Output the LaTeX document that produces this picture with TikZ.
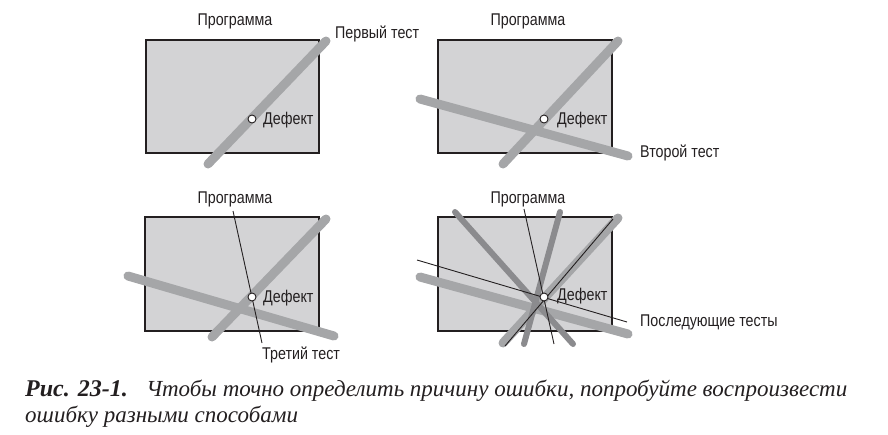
\documentclass[tikz,border=0pt]{standalone}
\usepackage{fontspec}
\setmainfont{Liberation Serif}
\newfontfamily\labfont[FakeStretch=0.84]{Liberation Sans}
\definecolor{boxfill}{HTML}{D3D3D5}
\definecolor{testlight}{HTML}{A5A6A8}
\definecolor{testdark}{HTML}{8B8B8E}
\definecolor{ink}{HTML}{231F20}
\tikzset{
  prog/.style={draw=ink, line width=1.8pt, fill=boxfill},
  thicktest/.style={draw=testlight, line width=9pt, line cap=round},
  medtest/.style={draw=testdark, line width=6pt, line cap=round},
  thintest/.style={draw=ink, line width=0.9pt},
  defect/.style={circle, draw=ink, fill=white, line width=0.9pt, minimum size=8pt, inner sep=0pt},
  lab/.style={font=\labfont\fontsize{17}{20}\selectfont, text=ink, inner sep=0pt},
  captext/.style={font=\fontsize{23}{27}\selectfont, text=ink, inner sep=0pt, anchor=base west}
}
\begin{document}
\begin{tikzpicture}[x=1pt,y=-1pt]
\useasboundingbox (0,0) rectangle (888,434);
% ---------- Panel 1 ----------
\draw[prog] (146,40) rectangle (319,153);
\coordinate (a1) at (208,164);
\coordinate (a2) at (326,41);
\draw[thicktest] (a1) -- (a2);
\node[defect] (d1) at (252,119) {};
\node[lab, anchor=west] (l1) at (263,120) {Дефект};
\node[lab] (p1) at (235,21) {Программа};
\node[lab, anchor=west] (t1) at (335,34) {Первый тест};
% ---------- Panel 2 ----------
\draw[prog] (438,40) rectangle (612,153);
\coordinate (b1) at (503,164);
\coordinate (b2) at (618,41);
\coordinate (b3) at (420,99);
\node[lab, anchor=west] (t2) at (640,153) {Второй тест};
\draw[thicktest] (b1) -- (b2);
\draw[thicktest] (b3) -- (628,156);
\node[defect] (d2) at (544,119) {};
\node[lab, anchor=west] (l2) at (557,120) {Дефект};
\node[lab] (p2) at (528,21) {Программа};
% ---------- Panel 3 ----------
\draw[prog] (145,217) rectangle (319,331);
\coordinate (c1) at (212,337);
\coordinate (c2) at (326,219);
\coordinate (c3) at (128,276);
\coordinate (c4) at (334,336);
\draw[thicktest] (c1) -- (c2);
\draw[thicktest] (c3) -- (c4);
\node[lab] (p3) at (235,199) {Программа};
\node[lab, anchor=west] (t3) at (262,355) {Третий тест};
\coordinate (c5) at (233,211);
\coordinate (c6) at (262,343);
\draw[thintest] (c5) -- (c6);
\node[defect] (d3) at (252,297) {};
\node[lab, anchor=west] (l3) at (263,298) {Дефект};
% ---------- Panel 4 ----------
\draw[prog] (438,217) rectangle (612,331);
\coordinate (e1) at (503,343);
\coordinate (e2) at (618,218);
\coordinate (e3) at (420,277);
\coordinate (e4) at (628,334);
\draw[thicktest] (e1) -- (e2);
\draw[thicktest] (e3) -- (e4);
\coordinate (f1) at (455,212);
\coordinate (f2) at (573,344);
\coordinate (f3) at (560,212);
\coordinate (f4) at (524,344);
\draw[medtest] (f1) -- (f2);
\draw[medtest] (f3) -- (f4);
\node[lab] (p4) at (528,199) {Программа};
\node[lab, anchor=west] (t4) at (640,322) {Последующие тесты};
\coordinate (g1) at (524,209);
\coordinate (g2) at (554,344);
\coordinate (g3) at (417,260);
\coordinate (g4) at (627,322);
\coordinate (g5) at (505,346);
\coordinate (g6) at (613,219);
\draw[thintest] (g1) -- (g2);
\draw[thintest] (g3) -- (g4);
\draw[thintest] (g5) -- (g6);
\node[defect] (d4) at (544,297) {};
\node[lab, anchor=west] (l4) at (557,296) {Дефект};
% ---------- Caption ----------
\node[captext] (cap1) at (25,396) {{\fontsize{24}{27}\selectfont\textbf{\textit{Рис. 23-1.}}}\hspace{0.8em}\textit{Чтобы точно определить причину ошибки, попробуйте воспроизвести}};
\node[captext] (cap2) at (25,422) {\textit{ошибку разными способами}};
\end{tikzpicture}
\end{document}
